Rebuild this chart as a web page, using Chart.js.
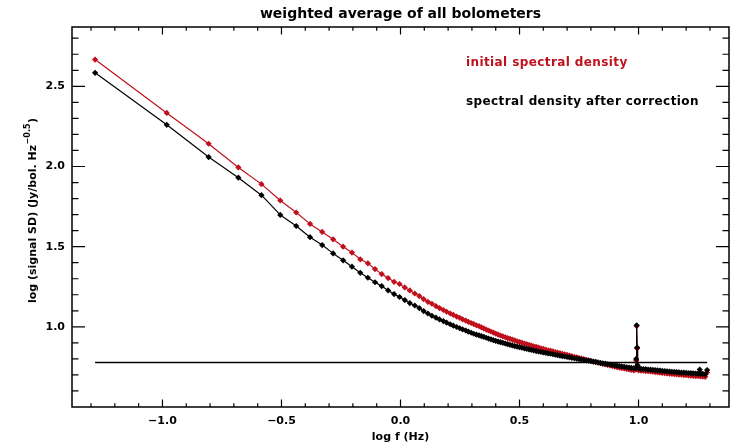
<!DOCTYPE html>
<html><head><meta charset="utf-8">
<script src="https://cdn.jsdelivr.net/npm/chart.js@4.4.1/dist/chart.umd.min.js"></script>
<style>html,body{margin:0;padding:0;background:#fff}</style>
</head><body>
<canvas id="c" width="745" height="448"></canvas>
<script>
const titleText = 'weighted average of all bolometers';
const xLabel = 'log f (Hz)';
const yLabelMain = 'log (signal SD) (Jy/bol. Hz';
const yLabelSup = '\u22120.5';
const yLabelEnd = ')';
const seriesNames = ['initial spectral density', 'spectral density after correction'];

const logF = [
 -1.283,-0.982,-0.806,-0.681,-0.584,-0.505,-0.438,-0.380,-0.329,-0.283,
 -0.241,-0.204,-0.169,-0.137,-0.107,-0.079,-0.052,-0.027,-0.004,0.018,
 0.039,0.060,0.079,0.097,0.115,0.132,0.149,0.164,0.180,0.194,
 0.209,0.222,0.236,0.249,0.261,0.274,0.285,0.297,0.308,0.319,
 0.33,0.34,0.35,0.36,0.37,0.38,0.39,0.40,0.41,0.42,0.43,0.44,0.45,0.46,0.47,0.48,0.49,
 0.50,0.51,0.52,0.53,0.54,0.55,0.56,0.57,0.58,0.59,0.60,0.61,0.62,0.63,0.64,0.65,0.66,
 0.67,0.68,0.69,0.70,0.71,0.72,0.73,0.74,0.75,0.76,0.77,0.78,0.79,0.80,0.81,0.82,0.83,
 0.84,0.85,0.86,0.87,0.88,0.89,0.90,0.91,0.92,0.93,0.94,0.95,0.96,0.97,0.98,
 0.988,0.990,0.992,0.994,0.996,
 1.00,1.01,1.02,1.03,1.04,1.05,1.06,1.07,1.08,1.09,1.10,1.11,1.12,1.13,1.14,1.15,1.16,
 1.17,1.18,1.19,1.20,1.21,1.22,1.23,1.24,1.25,1.257,1.26,1.27,1.28,1.288
];
const initialSD = [
 2.667,2.334,2.142,1.994,1.890,1.788,1.713,1.642,1.592,1.546,
 1.500,1.463,1.421,1.396,1.360,1.329,1.304,1.281,1.267,1.246,
 1.227,1.208,1.192,1.173,1.156,1.144,1.129,1.117,1.105,1.094,
 1.083,1.074,1.064,1.056,1.047,1.039,1.031,1.024,1.017,1.010,
 1.004,0.997,0.990,0.983,0.977,0.971,0.964,0.958,0.952,0.946,0.941,0.935,0.930,0.925,0.920,0.915,0.910,
 0.905,0.901,0.896,0.892,0.887,0.883,0.879,0.875,0.871,0.866,0.862,0.858,0.854,0.851,0.847,0.843,0.839,
 0.836,0.832,0.828,0.825,0.821,0.817,0.813,0.810,0.806,0.802,0.798,0.794,0.791,0.787,0.783,0.780,0.776,
 0.773,0.769,0.766,0.762,0.759,0.756,0.752,0.749,0.746,0.743,0.740,0.737,0.734,0.731,0.729,
 0.733,0.790,1.005,0.865,0.745,
 0.728,0.727,0.726,0.724,0.723,0.722,0.720,0.718,0.716,0.714,0.712,0.711,0.709,0.708,0.706,0.705,0.704,
 0.702,0.701,0.699,0.698,0.697,0.696,0.694,0.693,0.692,0.718,0.691,0.690,0.688,0.715
];
const correctedSD = [
 2.584,2.260,2.059,1.930,1.821,1.698,1.629,1.559,1.510,1.458,
 1.415,1.375,1.337,1.306,1.278,1.254,1.227,1.204,1.186,1.167,
 1.148,1.133,1.117,1.098,1.083,1.069,1.057,1.046,1.036,1.026,
 1.016,1.007,0.999,0.991,0.984,0.977,0.970,0.963,0.957,0.951,
 0.947,0.942,0.937,0.932,0.927,0.922,0.917,0.912,0.908,0.904,0.900,0.896,0.892,0.888,0.884,0.880,0.877,
 0.873,0.870,0.866,0.863,0.859,0.856,0.853,0.849,0.846,0.843,0.840,0.837,0.834,0.832,0.829,0.826,0.823,
 0.820,0.817,0.815,0.812,0.809,0.807,0.804,0.802,0.799,0.796,0.794,0.791,0.789,0.786,0.783,0.781,0.778,
 0.775,0.772,0.770,0.767,0.765,0.762,0.760,0.758,0.755,0.753,0.751,0.748,0.746,0.744,0.742,
 0.742,0.800,1.010,0.871,0.760,
 0.740,0.738,0.737,0.736,0.734,0.733,0.731,0.730,0.728,0.727,0.725,0.724,0.723,0.721,0.720,0.719,0.718,
 0.716,0.715,0.714,0.713,0.712,0.711,0.710,0.709,0.708,0.734,0.707,0.706,0.704,0.730
];
const refLevelX = [-1.283, 1.288];
const refLevelY = [0.777, 0.777];
const xTickValues = [-1.0, -0.5, 0.0, 0.5, 1.0];
const yTickValues = [1.0, 1.5, 2.0, 2.5];

const RED = '#c0101c';
const FONT = '"DejaVu Sans", sans-serif';

const toPts = (xs, ys) => xs.map((x, i) => ({x, y: ys[i]}));

const decor = {
  id: 'decor',
  afterDraw(chart) {
    const {ctx, chartArea: a, scales: {x, y}} = chart;
    ctx.save();
    ctx.strokeStyle = '#000';
    ctx.lineWidth = 1.5;
    ctx.strokeRect(a.left, a.top, a.right - a.left, a.bottom - a.top);
    ctx.lineWidth = 1.2;
    ctx.beginPath();
    for (let k = -13; k <= 13; k++) {
      const v = k / 10;
      const px = x.getPixelForValue(v);
      const len = (k % 5 === 0) ? 7.6 : 3.8;
      ctx.moveTo(px, a.bottom); ctx.lineTo(px, a.bottom - len);
      ctx.moveTo(px, a.top); ctx.lineTo(px, a.top + len);
    }
    for (let k = 6; k <= 28; k++) {
      const v = k / 10;
      const py = y.getPixelForValue(v);
      const len = (k % 5 === 0) ? 13 : 6.5;
      ctx.moveTo(a.left, py); ctx.lineTo(a.left + len, py);
      ctx.moveTo(a.right, py); ctx.lineTo(a.right - len, py);
    }
    ctx.stroke();
    ctx.fillStyle = '#000';
    ctx.textAlign = 'center';
    ctx.textBaseline = 'middle';
    ctx.font = 'bold 14px ' + FONT;
    ctx.fillText(titleText, (a.left + a.right) / 2, 14);
    ctx.font = 'bold 11px ' + FONT;
    ctx.fillText(xLabel, (a.left + a.right) / 2, 437);
    ctx.textAlign = 'left';
    ctx.font = 'bold 12px ' + FONT;
    ctx.letterSpacing = '0.4px';
    ctx.fillStyle = RED;
    ctx.fillText(seriesNames[0], 466, 63);
    ctx.fillStyle = '#000';
    ctx.fillText(seriesNames[1], 466, 102);
    ctx.letterSpacing = '0px';
    ctx.save();
    ctx.translate(33, 211);
    ctx.rotate(-Math.PI / 2);
    ctx.font = 'bold 11px ' + FONT;
    const w1 = ctx.measureText(yLabelMain).width;
    ctx.font = 'bold 8px ' + FONT;
    const w2 = ctx.measureText(yLabelSup).width;
    ctx.font = 'bold 11px ' + FONT;
    const w3 = ctx.measureText(yLabelEnd).width;
    let sx = -(w1 + w2 + w3) / 2;
    ctx.textAlign = 'left';
    ctx.fillText(yLabelMain, sx, 0);
    ctx.font = 'bold 8px ' + FONT;
    ctx.fillText(yLabelSup, sx + w1 + 0.5, -5);
    ctx.font = 'bold 11px ' + FONT;
    ctx.fillText(yLabelEnd, sx + w1 + w2 + 1, 0);
    ctx.restore();
    ctx.restore();
  }
};

new Chart(document.getElementById('c'), {
  type: 'line',
  data: {
    datasets: [
      {
        label: seriesNames[1],
        data: toPts(logF, correctedSD),
        borderColor: '#000', backgroundColor: '#000',
        borderWidth: 1.2, pointStyle: 'rectRot', pointRadius: 3.1, pointBorderWidth: 0,
        tension: 0, order: 1
      },
      {
        label: seriesNames[0],
        data: toPts(logF, initialSD),
        borderColor: RED, backgroundColor: RED,
        borderWidth: 1.2, pointStyle: 'rectRot', pointRadius: 3.1, pointBorderWidth: 0,
        tension: 0, order: 2
      },
      {
        label: 'reference level',
        data: toPts(refLevelX, refLevelY),
        borderColor: '#000', borderWidth: 1.5, pointRadius: 0, order: 3
      }
    ]
  },
  options: {
    responsive: false,
    animation: false,
    devicePixelRatio: 1,
    layout: {padding: {top: 27, right: 16, left: 0, bottom: 0}},
    plugins: {legend: {display: false}, tooltip: {enabled: false}, title: {display: false}},
    elements: {line: {borderJoinStyle: 'round'}},
    scales: {
      x: {
        type: 'linear', min: -1.38, max: 1.38,
        afterFit(s) { s.height = 41; },
        afterBuildTicks(s) { s.ticks = xTickValues.map(v => ({value: v})); },
        grid: {display: false, drawTicks: false},
        border: {display: false},
        ticks: {
          padding: 8, color: '#000', font: {family: FONT, size: 11, weight: 'bold'},
          maxRotation: 0, autoSkip: false,
          callback: v => (v < 0 ? '\u2212' : '') + Math.abs(v).toFixed(1)
        }
      },
      y: {
        type: 'linear', min: 0.5, max: 2.87,
        afterFit(s) { s.width = 72; },
        afterBuildTicks(s) { s.ticks = yTickValues.map(v => ({value: v})); },
        grid: {display: false, drawTicks: false},
        border: {display: false},
        ticks: {
          padding: 7, color: '#000', font: {family: FONT, size: 11, weight: 'bold'},
          autoSkip: false,
          callback: v => v.toFixed(1)
        }
      }
    }
  },
  plugins: [decor]
});
</script>
</body></html>
